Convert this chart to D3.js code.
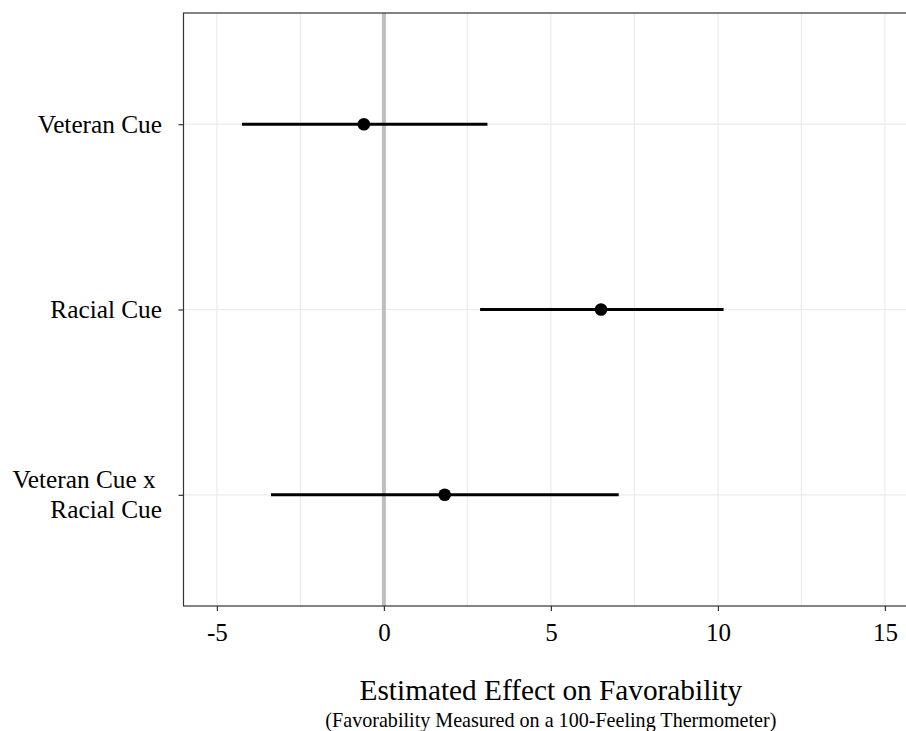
<!DOCTYPE html>
<html>
<head>
<meta charset="utf-8">
<script src="https://cdn.jsdelivr.net/npm/d3@7"></script>
<style>
  body { margin: 0; background: #fff; }
  text { font-family: "Liberation Serif", "Times New Roman", serif; }
</style>
</head>
<body>
<div id="chart"></div>
<script>
// data
var terms = ["Veteran Cue", "Racial Cue", "Veteran Cue x \nRacial Cue"];
var estimates = [-0.6, 6.5, 1.82];
var lower = [-4.25, 2.88, -3.38];
var upper = [3.1, 10.17, 7.03];
var xTicks = [-5, 0, 5, 10, 15];
var xMinor = [-2.5, 2.5, 7.5, 12.5];

var svgWidth = 906;
var svgHeight = 731;

var margin = { top: 13, left: 183.5, bottom: 125 };
var plotBottom = svgHeight - margin.bottom;

var svg = d3.select("#chart")
  .append("svg")
  .attr("width", svgWidth)
  .attr("height", svgHeight);

var rows = terms.map(function(t, i) {
  return { term: t, est: estimates[i], lo: lower[i], hi: upper[i] };
});

// scales
var x = d3.scaleLinear()
  .domain([-6, 16])
  .range([margin.left, margin.left + 33.4 * 22]);

var y = d3.scalePoint()
  .domain(terms)
  .range([margin.top, plotBottom])
  .padding(0.6);

var right = x(16);

// gridlines
svg.append("g").selectAll("line")
  .data(xMinor.concat(xTicks))
  .enter().append("line")
  .attr("x1", d => x(d)).attr("x2", d => x(d))
  .attr("y1", margin.top).attr("y2", plotBottom)
  .attr("stroke", "#ebebeb")
  .attr("stroke-width", 1.2);

svg.append("g").selectAll("line")
  .data(terms)
  .enter().append("line")
  .attr("x1", margin.left).attr("x2", right)
  .attr("y1", d => y(d)).attr("y2", d => y(d))
  .attr("stroke", "#ebebeb")
  .attr("stroke-width", 1.2);

// zero reference line
svg.append("line")
  .attr("x1", x(0)).attr("x2", x(0))
  .attr("y1", margin.top).attr("y2", plotBottom)
  .attr("stroke", "#bebebe")
  .attr("stroke-width", 4);

// panel border
svg.append("rect")
  .attr("x", margin.left).attr("y", margin.top)
  .attr("width", right - margin.left)
  .attr("height", plotBottom - margin.top)
  .attr("fill", "none")
  .attr("stroke", "#333333")
  .attr("stroke-width", 1.2);

// intervals
svg.append("g").selectAll("line")
  .data(rows)
  .enter().append("line")
  .attr("x1", d => x(d.lo)).attr("x2", d => x(d.hi))
  .attr("y1", d => y(d.term)).attr("y2", d => y(d.term))
  .attr("stroke", "black")
  .attr("stroke-width", 3);

svg.append("g").selectAll("circle")
  .data(rows)
  .enter().append("circle")
  .attr("cx", d => x(d.est))
  .attr("cy", d => y(d.term))
  .attr("r", 6.3)
  .attr("fill", "black");

// x axis
var bottomAxis = d3.axisBottom(x)
  .tickValues(xTicks)
  .tickSize(5)
  .tickPadding(12)
  .tickFormat(d => String(d));

var xAxis = svg.append("g")
  .attr("transform", `translate(0, ${plotBottom})`)
  .call(bottomAxis);
xAxis.select(".domain").remove();
xAxis.selectAll("line").attr("stroke", "#333333").attr("stroke-width", 1.2);
xAxis.selectAll("text")
  .attr("fill", "black")
  .attr("font-size", "25px")
  .attr("font-family", "Liberation Serif, serif");

// y axis
var leftAxis = d3.axisLeft(y).tickSize(5).tickPadding(16).tickFormat("");
var yAxis = svg.append("g")
  .attr("transform", `translate(${margin.left}, 0)`)
  .call(leftAxis);
yAxis.select(".domain").remove();
yAxis.selectAll("line").attr("stroke", "#333333").attr("stroke-width", 1.2);

var labels = svg.append("g").selectAll("text")
  .data(terms)
  .enter().append("text")
  .attr("x", margin.left - 21.5)
  .attr("y", d => y(d))
  .attr("text-anchor", "end")
  .attr("font-size", "25.3px")
  .attr("fill", "black")
  .style("white-space", "pre");

labels.each(function(d) {
  var lines = d.split("\n");
  var el = d3.select(this);
  var start = -(lines.length - 1) / 2 * 1.2 + 0.33;
  lines.forEach(function(line, i) {
    el.append("tspan")
      .attr("x", margin.left - 21.5)
      .attr("dy", (i === 0 ? start : 1.2) + "em")
      .text(line);
  });
});

// axis titles
var cx = (margin.left + right) / 2;
svg.append("text")
  .attr("x", cx).attr("y", 700)
  .attr("text-anchor", "middle")
  .attr("font-size", "29.3px")
  .attr("fill", "black")
  .text("Estimated Effect on Favorability");

svg.append("text")
  .attr("x", cx).attr("y", 727)
  .attr("text-anchor", "middle")
  .attr("font-size", "20.1px")
  .attr("fill", "black")
  .text("(Favorability Measured on a 100-Feeling Thermometer)");
</script>
</body>
</html>
